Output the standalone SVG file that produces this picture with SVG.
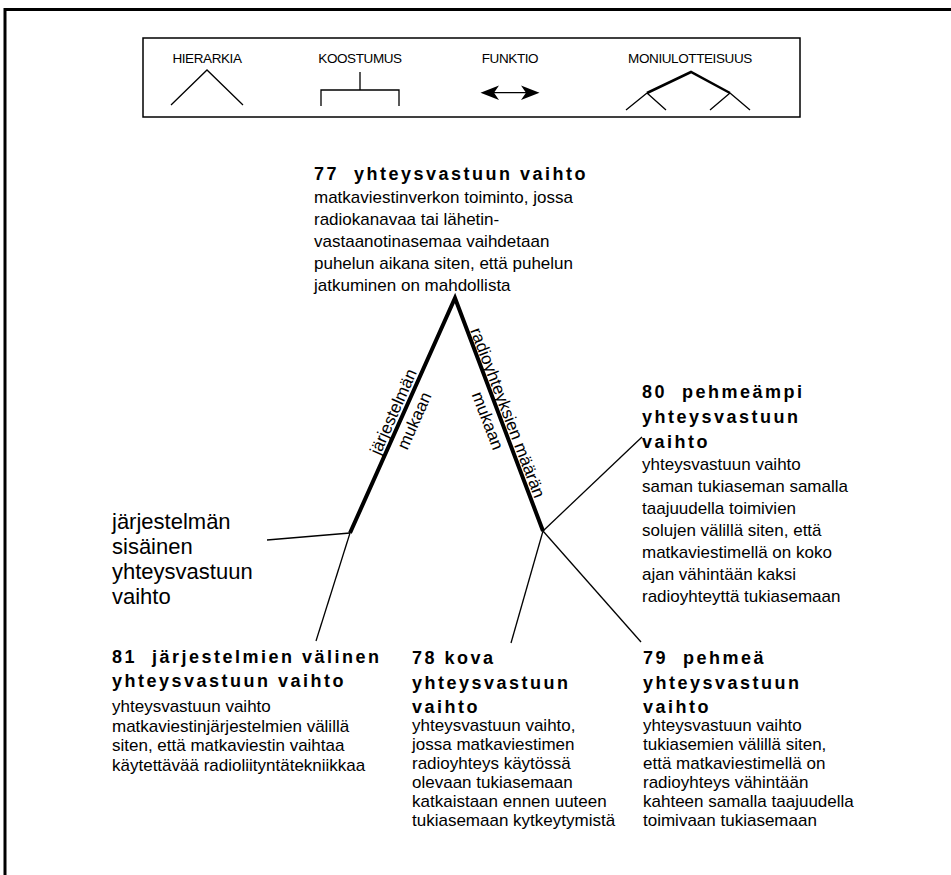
<svg xmlns="http://www.w3.org/2000/svg" width="951" height="875" viewBox="0 0 951 875">
  <style>
    text { font-family: "Liberation Sans", Arial, sans-serif; fill: #000; }
    .lg { font-size: 13.5px; text-anchor: middle; letter-spacing: -0.4px; }
    .t { font-size: 18px; font-weight: bold; letter-spacing: 2.5px; }
    .b { font-size: 17px; }
    .big { font-size: 22px; }
    .rot { font-size: 17px; text-anchor: middle; }
    .thin { stroke: #000; stroke-width: 1.3; fill: none; }
    .thick { stroke: #000; stroke-width: 4; fill: none; stroke-linejoin: miter; stroke-miterlimit: 10; }
  </style>

  <rect width="951" height="875" fill="#fff"/>
  <!-- page frame -->
  <path d="M5,875 V9.5 H951" stroke="#000" stroke-width="3" fill="none"/>

  <!-- legend -->
  <g id="legend">
    <rect x="143" y="38" width="657" height="79" fill="none" stroke="#000" stroke-width="1.5"/>
    <text class="lg" x="207" y="63">HIERARKIA</text>
    <polyline class="thin" points="171,105 207,70 243,105"/>
    <text class="lg" x="360" y="63">KOOSTUMUS</text>
    <path class="thin" d="M360,72 V90 M321,106 V90 H399 V106"/>
    <text class="lg" x="510" y="63">FUNKTIO</text>
    <line class="thin" x1="490" y1="92.7" x2="530" y2="92.7"/>
    <polygon points="480.5,92.7 499,85.5 494,92.7 499,100" fill="#000"/>
    <polygon points="539.5,92.7 521,85.5 526,92.7 521,100" fill="#000"/>
    <text class="lg" x="690" y="63">MONIULOTTEISUUS</text>
    <polyline points="647,93 691,72 730,93" fill="none" stroke="#000" stroke-width="2.5"/>
    <path class="thin" d="M647,93 L626,110 M647,93 L666,110 M730,93 L710,110 M730,93 L750,110"/>
  </g>

  <!-- connectors -->
  <g id="connectors">
    <polyline class="thick" points="350,533 455,298 543,531"/>
    <line class="thin" x1="350" y1="533" x2="267" y2="540"/>
    <line class="thin" x1="350" y1="533" x2="316" y2="641"/>
    <line class="thin" x1="543" y1="531" x2="642" y2="437"/>
    <line class="thin" x1="543" y1="531" x2="511" y2="643"/>
    <line class="thin" x1="543" y1="531" x2="641" y2="642"/>
    <g id="edge-labels">
      <text class="rot" transform="translate(394,412) rotate(-66)" x="0" y="5">järjestelmän</text>
      <text class="rot" transform="translate(415,421) rotate(-66)" x="0" y="5">mukaan</text>
      <text class="rot" transform="translate(507,413) rotate(69)" x="0" y="5">radioyhteyksien määrän</text>
      <text class="rot" transform="translate(487,421) rotate(69)" x="0" y="5">mukaan</text>
    </g>
  </g>

  <g id="node-77">
    <text class="t" x="314" y="180">77&#160; yhteysvastuun vaihto</text>
    <text class="b" x="314" y="203">matkaviestinverkon toiminto, jossa</text>
    <text class="b" x="314" y="225">radiokanavaa tai lähetin-</text>
    <text class="b" x="314" y="247">vastaanotinasemaa vaihdetaan</text>
    <text class="b" x="314" y="269">puhelun aikana siten, että puhelun</text>
    <text class="b" x="314" y="291">jatkuminen on mahdollista</text>
  </g>

  <g id="node-sisainen">
    <text class="big" x="112" y="529">järjestelmän</text>
    <text class="big" x="112" y="554">sisäinen</text>
    <text class="big" x="112" y="579">yhteysvastuun</text>
    <text class="big" x="112" y="604">vaihto</text>
  </g>

  <g id="node-80">
    <text class="t" x="642" y="398">80&#160; pehmeämpi</text>
    <text class="t" x="642" y="423">yhteysvastuun</text>
    <text class="t" x="642" y="448">vaihto</text>
    <text class="b" x="642" y="470">yhteysvastuun vaihto</text>
    <text class="b" x="642" y="492">saman tukiaseman samalla</text>
    <text class="b" x="642" y="514">taajuudella toimivien</text>
    <text class="b" x="642" y="536">solujen välillä siten, että</text>
    <text class="b" x="642" y="558">matkaviestimellä on koko</text>
    <text class="b" x="642" y="580">ajan vähintään kaksi</text>
    <text class="b" x="642" y="602">radioyhteyttä tukiasemaan</text>
  </g>

  <g id="node-81">
    <text class="t" x="112" y="663">81&#160; järjestelmien välinen</text>
    <text class="t" x="112" y="687">yhteysvastuun vaihto</text>
    <text class="b" x="112" y="712">yhteysvastuun vaihto</text>
    <text class="b" x="112" y="731.5">matkaviestinjärjestelmien välillä</text>
    <text class="b" x="112" y="751">siten, että matkaviestin vaihtaa</text>
    <text class="b" x="112" y="770.5">käytettävää radioliityntätekniikkaa</text>
  </g>

  <g id="node-78">
    <text class="t" x="412" y="664">78 kova</text>
    <text class="t" x="412" y="689">yhteysvastuun</text>
    <text class="t" x="412" y="713">vaihto</text>
    <text class="b" x="412" y="731">yhteysvastuun vaihto,</text>
    <text class="b" x="412" y="750">jossa matkaviestimen</text>
    <text class="b" x="412" y="769">radioyhteys käytössä</text>
    <text class="b" x="412" y="788">olevaan tukiasemaan</text>
    <text class="b" x="412" y="807">katkaistaan ennen uuteen</text>
    <text class="b" x="412" y="826">tukiasemaan kytkeytymistä</text>
  </g>

  <g id="node-79">
    <text class="t" x="643" y="664">79&#160; pehmeä</text>
    <text class="t" x="643" y="689">yhteysvastuun</text>
    <text class="t" x="643" y="713">vaihto</text>
    <text class="b" x="643" y="731">yhteysvastuun vaihto</text>
    <text class="b" x="643" y="750">tukiasemien välillä siten,</text>
    <text class="b" x="643" y="769">että matkaviestimellä on</text>
    <text class="b" x="643" y="788">radioyhteys vähintään</text>
    <text class="b" x="643" y="807">kahteen samalla taajuudella</text>
    <text class="b" x="643" y="826">toimivaan tukiasemaan</text>
  </g>
</svg>
